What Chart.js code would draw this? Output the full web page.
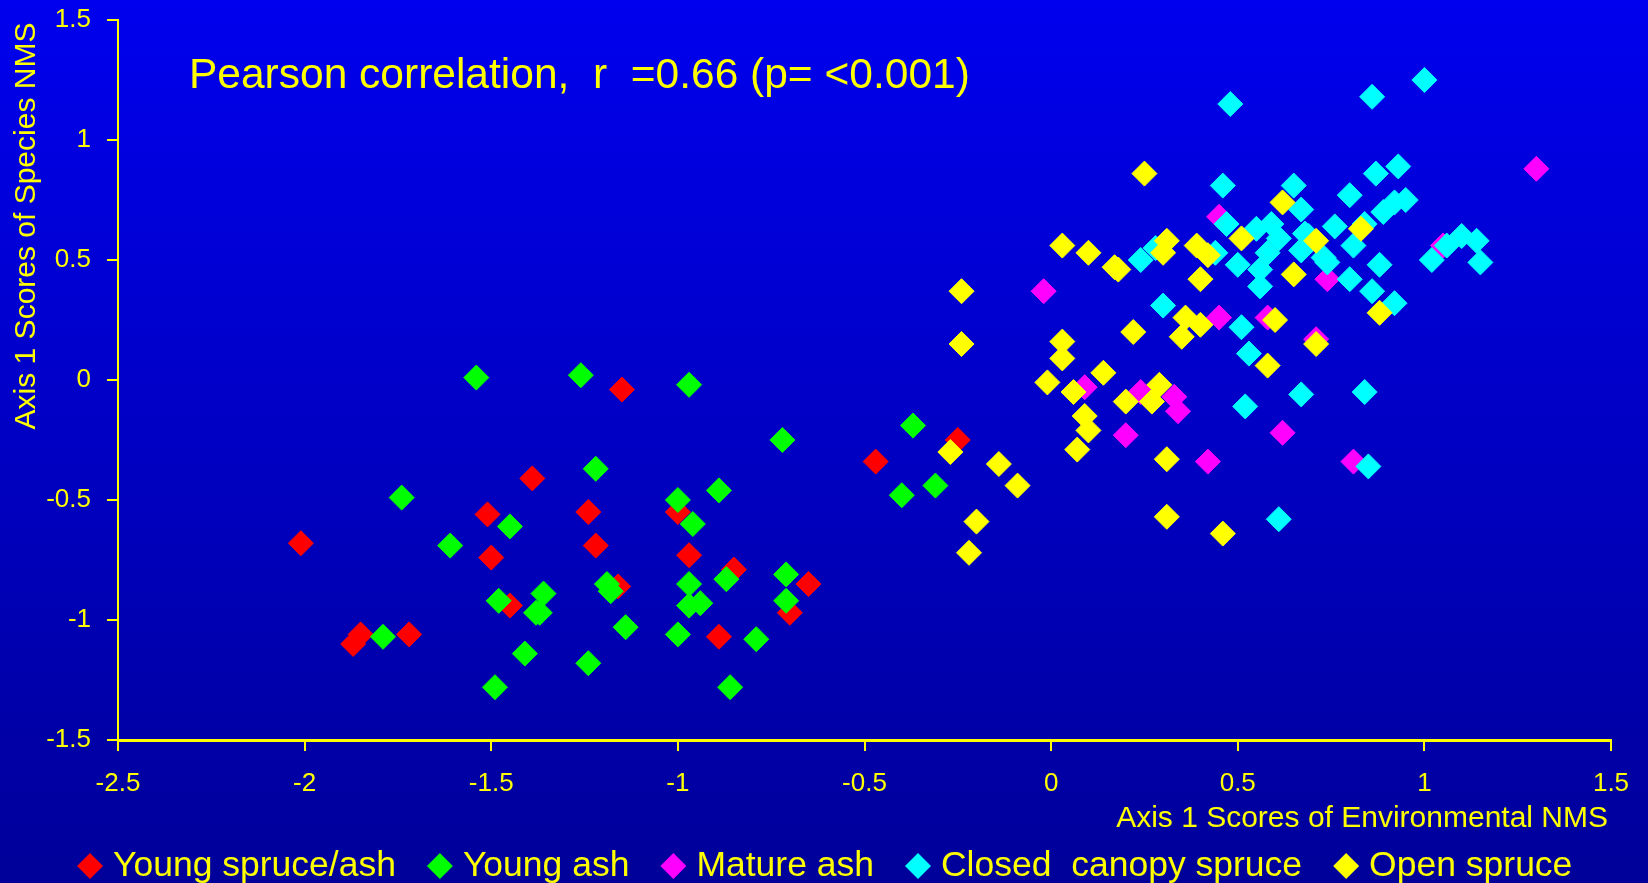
<!DOCTYPE html>
<html>
<head>
<meta charset="utf-8">
<script src="https://cdn.jsdelivr.net/npm/chart.js@4.4.0/dist/chart.umd.min.js"></script>
<style>
  html, body { margin: 0; padding: 0; background: #0000c0; }
  canvas { display: block; }
</style>
</head>
<body>
<canvas id="chart" width="1648" height="883"></canvas>
<script>
const YELLOW = '#ffff00';
const FONT = '"Liberation Sans", Arial, sans-serif';

// tick values on both axes
const xTicks = [-2.5, -2, -1.5, -1, -0.5, 0, 0.5, 1, 1.5];
const yTicks = [-1.5, -1, -0.5, 0, 0.5, 1, 1.5];

const seriesNames = ['Young spruce/ash', 'Young ash', 'Mature ash', 'Closed  canopy spruce', 'Open spruce'];
const seriesColors = ['#ff0000', '#00ff00', '#ff00ff', '#00ffff', '#ffff00'];

// [env axis 1, species axis 1]
const youngSpruceAsh = [
    [-2.01, -0.68], [-1.87, -1.10], [-1.85, -1.06], [-1.72, -1.06], [-1.51, -0.56],
    [-1.50, -0.74], [-1.45, -0.94], [-1.39, -0.41], [-1.24, -0.55], [-1.22, -0.69],
    [-1.16, -0.86], [-1.15, -0.04], [-1.00, -0.55], [-0.97, -0.73], [-0.89, -1.07],
    [-0.85, -0.79], [-0.70, -0.97], [-0.65, -0.85], [-0.47, -0.34], [-0.25, -0.25],
];
const youngAsh = [
    [-1.79, -1.07], [-1.74, -0.49], [-1.61, -0.69], [-1.54, 0.01], [-1.49, -1.28],
    [-1.48, -0.92], [-1.45, -0.61], [-1.41, -1.14], [-1.38, -0.97], [-1.37, -0.97],
    [-1.36, -0.89], [-1.26, 0.02], [-1.24, -1.18], [-1.22, -0.37], [-1.19, -0.85],
    [-1.18, -0.88], [-1.14, -1.03], [-1.00, -0.50], [-1.00, -1.06], [-0.97, -0.02],
    [-0.97, -0.85], [-0.97, -0.94], [-0.96, -0.60], [-0.94, -0.93], [-0.89, -0.46],
    [-0.87, -0.83], [-0.86, -1.28], [-0.79, -1.08], [-0.72, -0.25], [-0.71, -0.92],
    [-0.71, -0.81], [-0.40, -0.48], [-0.37, -0.19], [-0.31, -0.44],
];
const matureAsh = [
    [-0.02, 0.37], [0.09, -0.03], [0.20, -0.23], [0.24, -0.05], [0.33, -0.07],
    [0.34, -0.13], [0.42, -0.34], [0.45, 0.26], [0.45, 0.68], [0.58, 0.26],
    [0.62, -0.22], [0.71, 0.17], [0.74, 0.42], [0.81, -0.34], [1.05, 0.56], [1.30, 0.88],
];
const closedCanopySpruce = [
    [0.24, 0.50], [0.28, 0.55], [0.30, 0.31], [0.44, 0.53], [0.46, 0.81], [0.47, 0.65],
    [0.48, 1.15], [0.52, -0.11], [0.50, 0.48], [0.51, 0.22], [0.53, 0.11], [0.55, 0.63],
    [0.56, 0.39], [0.56, 0.46], [0.58, 0.53], [0.59, 0.65], [0.61, 0.59], [0.61, -0.58],
    [0.65, 0.81], [0.67, 0.71], [0.67, -0.06], [0.67, 0.54], [0.68, 0.61], [0.69, 0.60],
    [0.73, 0.51], [0.74, 0.49], [0.76, 0.64], [0.80, 0.77], [0.80, 0.42], [0.81, 0.56],
    [0.84, 0.65], [0.84, -0.05], [0.85, -0.36], [0.86, 1.18], [0.86, 0.37], [0.87, 0.86],
    [0.88, 0.48], [0.89, 0.70], [0.92, 0.32], [0.92, 0.74], [0.93, 0.89], [0.95, 0.75],
    [1.00, 1.25], [1.02, 0.50], [1.06, 0.56], [1.10, 0.60], [1.14, 0.58], [1.15, 0.49],
];
const openSpruce = [
    [-0.27, -0.30], [-0.24, 0.37], [-0.24, 0.15], [-0.22, -0.72], [-0.20, -0.59],
    [-0.14, -0.35], [-0.09, -0.44], [-0.01, -0.01], [0.03, 0.56], [0.03, 0.16],
    [0.03, 0.09], [0.06, -0.05], [0.07, -0.29], [0.09, -0.15], [0.10, -0.21],
    [0.10, 0.53], [0.14, 0.03], [0.17, 0.47], [0.18, 0.46], [0.20, -0.09],
    [0.22, 0.20], [0.25, 0.86], [0.27, -0.09], [0.29, -0.02], [0.30, 0.53],
    [0.31, -0.33], [0.31, -0.57], [0.31, 0.58], [0.35, 0.18], [0.36, 0.26],
    [0.39, 0.56], [0.40, 0.42], [0.40, 0.23], [0.42, 0.52], [0.46, -0.64],
    [0.51, 0.59], [0.58, 0.06], [0.60, 0.25], [0.62, 0.74], [0.65, 0.44],
    [0.71, 0.58], [0.71, 0.15], [0.83, 0.63], [0.88, 0.28],
];

const allSeries = [youngSpruceAsh, youngAsh, matureAsh, closedCanopySpruce, openSpruce];

const titleText = 'Pearson correlation,  r  =0.66 (p= <0.001)';
const xTitle = 'Axis 1 Scores of Environmental NMS';
const yTitle = 'Axis 1 Scores of Species NMS';

// blue slide background
const backgroundPlugin = {
    id: 'slideBackground',
    beforeDraw(chart) {
        const ctx = chart.ctx;
        const g = ctx.createLinearGradient(0, 0, 0, chart.height);
        g.addColorStop(0, '#0000ee');
        g.addColorStop(1, '#000099');
        ctx.save();
        ctx.fillStyle = g;
        ctx.fillRect(0, 0, chart.width, chart.height);
        ctx.restore();
    },
};

// titles + legend drawn as on the slide
const textPlugin = {
    id: 'slideTexts',
    afterDraw(chart) {
        const ctx = chart.ctx;
        ctx.save();
        ctx.fillStyle = YELLOW;
        ctx.textBaseline = 'alphabetic';

        ctx.font = '42.5px ' + FONT;
        ctx.textAlign = 'left';
        ctx.fillText(titleText, 189, 88);

        ctx.font = '30px ' + FONT;
        ctx.textAlign = 'right';
        ctx.fillText(xTitle, 1608, 827);

        ctx.save();
        ctx.translate(35, 226);
        ctx.rotate(-Math.PI / 2);
        ctx.textAlign = 'center';
        ctx.fillText(yTitle, 0, 0);
        ctx.restore();

        // legend
        ctx.font = '35.5px ' + FONT;
        ctx.textAlign = 'left';
        let x = 77;
        const r = 13, cy = 866;
        chart.data.datasets.forEach(ds => {
            ctx.fillStyle = ds.backgroundColor;
            ctx.beginPath();
            ctx.moveTo(x, cy);
            ctx.lineTo(x + r, cy - r);
            ctx.lineTo(x + 2 * r, cy);
            ctx.lineTo(x + r, cy + r);
            ctx.closePath();
            ctx.fill();
            x += 2 * r + 10;
            ctx.fillStyle = YELLOW;
            ctx.fillText(ds.label, x, 876);
            x += ctx.measureText(ds.label).width + 31;
        });
        ctx.restore();
    },
};

const datasets = allSeries.map((pts, i) => ({
    label: seriesNames[i],
    data: pts.map(p => ({ x: p[0], y: p[1] })),
    backgroundColor: seriesColors[i],
    borderColor: seriesColors[i],
    borderWidth: 1,
    pointStyle: 'rectRot',
    pointRadius: 12.5,
    pointHoverRadius: 12.5,
    // later series sit on top
    order: allSeries.length - i,
}));

new Chart(document.getElementById('chart'), {
    type: 'scatter',
    data: { datasets },
    options: {
        responsive: false,
        animation: false,
        layout: { padding: { left: 0, right: 37, top: 20, bottom: 0 } },
        plugins: {
            legend: { display: false },
            tooltip: { enabled: false },
        },
        scales: {
            x: {
                type: 'linear',
                min: -2.5,
                max: 1.5,
                afterBuildTicks: s => { s.ticks = xTicks.map(v => ({ value: v })); },
                afterFit: s => {
                    s.height = 143;
                    s.paddingLeft = 0;
                    s.paddingRight = 0;
                },
                border: { color: YELLOW, width: 3 },
                grid: { drawOnChartArea: false, color: YELLOW, lineWidth: 2, tickLength: 11 },
                ticks: {
                    color: YELLOW,
                    font: { family: FONT, size: 26 },
                    padding: 17,
                    maxRotation: 0,
                    autoSkip: false,
                    callback: v => String(v),
                },
            },
            y: {
                type: 'linear',
                min: -1.5,
                max: 1.5,
                afterBuildTicks: s => { s.ticks = yTicks.map(v => ({ value: v })); },
                afterFit: s => {
                    s.width = 118;
                    s.paddingTop = 0;
                    s.paddingBottom = 0;
                },
                border: { color: YELLOW, width: 2 },
                grid: { drawOnChartArea: false, color: YELLOW, lineWidth: 2, tickLength: 11 },
                ticks: {
                    color: YELLOW,
                    font: { family: FONT, size: 26 },
                    padding: 16,
                    autoSkip: false,
                    callback: v => String(v),
                },
            },
        },
    },
    plugins: [backgroundPlugin, textPlugin],
});
</script>
</body>
</html>
